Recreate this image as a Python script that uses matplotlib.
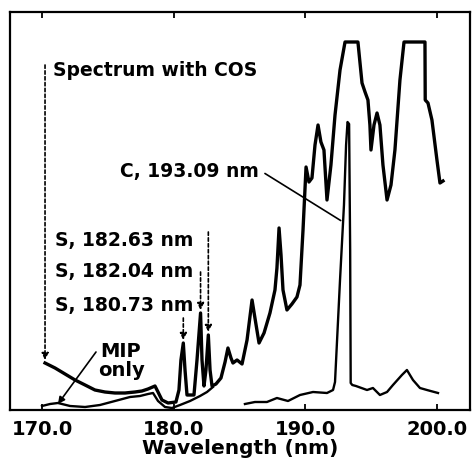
import numpy as np
import matplotlib
matplotlib.use("Agg")
import matplotlib.pyplot as plt

# Spectrum with COS (thick trace), wavelength in nm, intensity in arbitrary units
cos_wl = [170.23, 170.99, 171.75, 172.51, 173.27, 174.02, 174.78, 175.54, 176.30, 177.06,
          177.59, 178.05, 178.58, 178.81, 179.11, 179.57, 180.17, 180.40, 180.55, 180.73,
          180.86, 181.01, 181.54, 181.77, 182.04, 182.15, 182.30, 182.45, 182.63, 182.76,
          182.91, 183.21, 183.59, 183.90, 184.12, 184.35, 184.50, 184.81, 185.19, 185.57,
          185.95, 186.17, 186.48, 186.86, 187.31, 187.69, 187.84, 188.00, 188.15, 188.30,
          188.60, 188.98, 189.36, 189.59, 189.82, 190.05, 190.27, 190.50, 190.73, 190.96,
          191.18, 191.41, 191.64, 191.94, 192.25, 192.63, 193.01, 193.99, 194.30, 194.53,
          194.75, 194.90, 194.98, 195.21, 195.44, 195.66, 195.89, 196.20, 196.50, 196.80,
          197.18, 197.49, 199.08, 199.10, 199.31, 199.61, 199.99, 200.22, 200.45]
cos_int = [47, 42, 36, 30, 25, 20, 18, 17, 17, 18,
           19, 21, 24, 18, 10, 7, 8, 20, 50, 67,
           40, 15, 15, 50, 97, 50, 24, 40, 75, 40,
           24, 26, 32, 48, 62, 52, 47, 50, 46, 70,
           110, 92, 67, 77, 97, 120, 142, 182, 155, 120,
           100, 106, 113, 125, 180, 243, 228, 232, 265, 285,
           268, 260, 210, 245, 295, 340, 368, 368, 327, 318,
           310, 285, 260, 285, 297, 285, 245, 210, 225, 260,
           330, 368, 368, 310, 307, 290, 250, 227, 229]

# MIP only (thin trace); NaN where it is hidden under the COS trace
mip_wl = [170.00, 170.61, 171.21, 172.13, 173.27, 174.40, 175.54, 176.68, 177.44, 178.05,
          178.43, 178.81, 179.34, 179.87, 180.48, 181.24, 182.00, 182.53, 182.98, 184.2,
          185.41, 186.17, 187.08, 187.84, 188.68, 189.59, 190.58, 191.64, 192.10, 192.25,
          192.63, 192.93, 193.09, 193.20, 193.32, 193.40, 193.44, 193.56, 193.84, 194.68,
          195.13, 195.66, 196.20, 196.65, 197.33, 197.71, 198.17, 198.70, 199.23, 200.07]
mip_int = [4, 6, 7, 4, 3, 5, 9, 13, 14, 16,
           17, 9, 3, 2, 5, 9, 14, 18, 23, np.nan,
           6, 8, 8, 12, 9, 15, 18, 17, 20, 28,
           130, 205, 265, 288, 286, 160, 27, 25, 24, 20,
           22, 15, 18, 25, 35, 40, 30, 22, 20, 17]

x_ticks = [170.0, 180.0, 190.0, 200.0]
s_lines = [180.73, 182.04, 182.63]
s_tops = [92, 138, 178]
s_tips = [70, 100, 78]
s_label_y = [105, 138, 170]

fig = plt.figure(figsize=(4.73, 4.61), dpi=100)
ax = fig.add_axes([10 / 473, 51 / 461, 460 / 473, 398 / 461])

ax.plot(cos_wl, cos_int, color="black", lw=2.4, solid_joinstyle="round")
ax.plot(mip_wl, mip_int, color="black", lw=1.7, solid_joinstyle="round")

ax.set_xlim(167.57, 202.5)
ax.set_ylim(0, 398)
ax.set_yticks([])
ax.set_xticks(x_ticks)
ax.set_xticklabels([f"{t:.1f}" for t in x_ticks], fontsize=14, fontweight="bold")
ax.tick_params(axis="x", direction="in", top=True, length=4, width=1.3, pad=7)
for sp in ax.spines.values():
    sp.set_linewidth(1.6)
ax.set_xlabel("Wavelength (nm)", fontsize=14.5, fontweight="bold", labelpad=0)

lab = dict(fontsize=13.5, fontweight="bold", va="center", ha="left")
dotted = dict(arrowstyle="-|>", color="black", lw=1.2, linestyle=(0, (2, 1.5)),
              mutation_scale=10, shrinkA=0, shrinkB=0)

ax.text(170.84, 340, "Spectrum with COS", **lab)
ax.annotate("", xy=(170.23, 50), xytext=(170.23, 345), arrowprops=dotted)

ax.text(186.45, 238, "C, 193.09 nm", fontsize=13.5, fontweight="bold",
        va="center", ha="right")
ax.annotate("", xy=(192.86, 188), xytext=(186.75, 238),
            arrowprops=dict(arrowstyle="-", color="black", lw=1.2))

for wl, top, tip, ly in zip(s_lines, s_tops, s_tips, s_label_y):
    ax.text(171.0, ly, f"S, {wl:.2f} nm", **lab)
    ax.annotate("", xy=(wl, tip), xytext=(wl, top), arrowprops=dotted)

ax.text(176.0, 49, "MIP\nonly", fontsize=14, fontweight="bold",
        ha="center", va="center", linespacing=1.0)
ax.annotate("", xy=(171.21, 6), xytext=(174.1, 58),
            arrowprops=dict(arrowstyle="-|>", color="black", lw=1.2,
                            mutation_scale=10, shrinkA=0, shrinkB=0))

fig.savefig("out.png", dpi=100)
